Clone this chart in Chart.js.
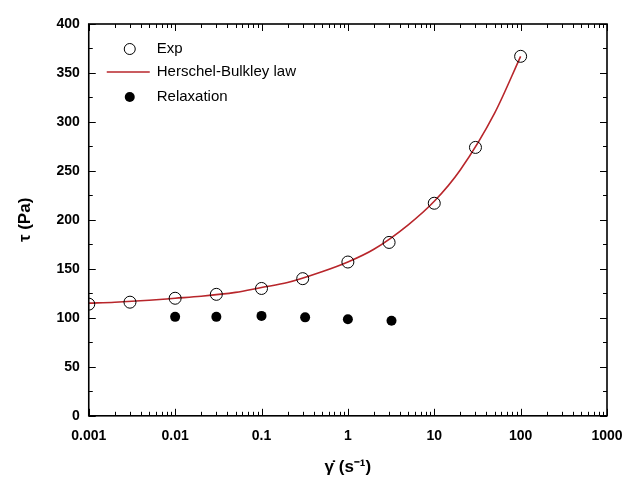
<!DOCTYPE html>
<html>
<head>
<meta charset="utf-8">
<script src="https://cdn.jsdelivr.net/npm/chart.js@4/dist/chart.umd.min.js"></script>
<style>
  html, body { margin: 0; background: #fff; }
  #wrap { width: 641px; height: 480px; }
</style>
</head>
<body>
<div id="wrap"><canvas id="chart"></canvas></div>
<script>
// shear rate (1/s) and shear stress (Pa)
const expRate = [0.001, 0.003, 0.01, 0.03, 0.1, 0.3, 1, 3, 10, 30, 100];
const expStress = [114, 116, 120, 124, 130, 140, 157, 177, 217, 274, 367];

const relaxRate = [0.01, 0.03, 0.1, 0.32, 1, 3.2];
const relaxStress = [101, 101, 102, 100.5, 98.5, 97];

// Herschel-Bulkley fit curve
const fitRate = [0.001, 0.002, 0.005, 0.01, 0.02, 0.05, 0.1, 0.2, 0.5, 1, 2, 5, 10, 20, 50, 100];
const fitStress = [115, 116, 118, 120, 122, 126, 131, 136, 147, 157, 170, 195, 219, 251, 309, 367];

const xTickValues = [0.001, 0.01, 0.1, 1, 10, 100, 1000];
const xTickLabels = ['0.001', '0.01', '0.1', '1', '10', '100', '1000'];
const yTickValues = [0, 50, 100, 150, 200, 250, 300, 350, 400];

const toPoints = (xs, ys) => xs.map((v, i) => ({ x: v, y: ys[i] }));

const fontFamily = 'Arial, "Liberation Sans", sans-serif';

// box frame, inward ticks on all sides, and legend inside the plot
const frameAndLegend = {
  id: 'frameAndLegend',
  afterDraw(chart) {
    const { ctx, chartArea: a, scales: { x, y } } = chart;
    ctx.save();
    ctx.strokeStyle = '#000';
    ctx.lineWidth = 1;

    const line = (x1, y1, x2, y2) => {
      ctx.beginPath();
      ctx.moveTo(x1, y1);
      ctx.lineTo(x2, y2);
      ctx.stroke();
    };

    // x ticks (log: majors at decades, minors 2..9)
    for (let e = -3; e <= 3; e++) {
      for (let m = 1; m <= 9; m++) {
        const v = m * Math.pow(10, e);
        if (v > 1000) break;
        const px = Math.round(x.getPixelForValue(v)) + 0.5;
        const len = m === 1 ? 7 : 4;
        line(px, a.bottom, px, a.bottom - len);
        line(px, a.top, px, a.top + len);
      }
    }
    // y ticks every 25
    for (let v = 0; v <= 400; v += 25) {
      const py = Math.round(y.getPixelForValue(v)) + 0.5;
      const len = v % 50 === 0 ? 7 : 4;
      line(a.left, py, a.left + len, py);
      line(a.right, py, a.right - len, py);
    }

    ctx.lineWidth = 1.6;
    ctx.strokeRect(a.left, a.top, a.right - a.left, a.bottom - a.top);

    // legend
    const lx = a.left + 41, tx = a.left + 68;
    const rows = [a.top + 25, a.top + 48, a.top + 73];
    ctx.font = '15px ' + fontFamily;
    ctx.fillStyle = '#000';
    ctx.textBaseline = 'middle';
    ctx.textAlign = 'left';

    ctx.lineWidth = 1;
    ctx.beginPath();
    ctx.arc(lx, rows[0], 5.5, 0, Math.PI * 2);
    ctx.stroke();
    ctx.fillText('Exp', tx, rows[0]);

    ctx.strokeStyle = '#b8262b';
    ctx.lineWidth = 1.6;
    line(lx - 23, rows[1], lx + 20, rows[1]);
    ctx.fillText('Herschel-Bulkley law', tx, rows[1]);

    ctx.beginPath();
    ctx.arc(lx, rows[2], 5, 0, Math.PI * 2);
    ctx.fill();
    ctx.fillText('Relaxation', tx, rows[2]);

    ctx.restore();
  }
};

new Chart(document.getElementById('chart'), {
  type: 'scatter',
  data: {
    datasets: [
      {
        label: 'Herschel-Bulkley law',
        data: toPoints(fitRate, fitStress),
        showLine: true,
        borderColor: '#b8262b',
        borderWidth: 1.6,
        pointRadius: 0,
        tension: 0.4,
        cubicInterpolationMode: 'monotone',
        order: 2
      },
      {
        label: 'Exp',
        data: toPoints(expRate, expStress),
        pointRadius: 6,
        pointBorderWidth: 1,
        pointBorderColor: '#000',
        pointBackgroundColor: 'rgba(0,0,0,0)',
        order: 1
      },
      {
        label: 'Relaxation',
        data: toPoints(relaxRate, relaxStress),
        pointRadius: 5,
        pointBorderWidth: 0,
        pointBackgroundColor: '#000',
        order: 1
      }
    ]
  },
  options: {
    responsive: true,
    maintainAspectRatio: false,
    animation: false,
    layout: { padding: { top: 24, right: 34, bottom: 2, left: 15 } },
    plugins: {
      legend: { display: false },
      tooltip: { enabled: false }
    },
    scales: {
      x: {
        type: 'logarithmic',
        min: 0.001,
        max: 1000,
        afterBuildTicks: (scale) => {
          scale.ticks = xTickValues.map(v => ({ value: v }));
        },
        grid: { display: false, drawTicks: false },
        border: { display: false },
        ticks: {
          padding: 12,
          color: '#000',
          font: { family: fontFamily, size: 14, weight: 'bold' },
          autoSkip: false,
          maxRotation: 0,
          callback: (v) => {
            const i = xTickValues.findIndex(t => Math.abs(t - v) / t < 1e-6);
            return i >= 0 ? xTickLabels[i] : '';
          }
        },
        title: {
          display: true,
          text: 'γ̇ (s⁻¹)',
          color: '#000',
          font: { family: fontFamily, size: 17, weight: 'bold' },
          padding: { top: 1, bottom: 0 }
        }
      },
      y: {
        min: 0,
        max: 400,
        afterBuildTicks: (scale) => {
          scale.ticks = yTickValues.map(v => ({ value: v }));
        },
        grid: { display: false, drawTicks: false },
        border: { display: false },
        ticks: {
          padding: 9,
          color: '#000',
          font: { family: fontFamily, size: 14, weight: 'bold' }
        },
        title: {
          display: true,
          text: 'τ (Pa)',
          color: '#000',
          font: { family: fontFamily, size: 17, weight: 'bold' },
          padding: { top: 0, bottom: 12 }
        }
      }
    }
  },
  plugins: [frameAndLegend]
});
</script>
</body>
</html>
